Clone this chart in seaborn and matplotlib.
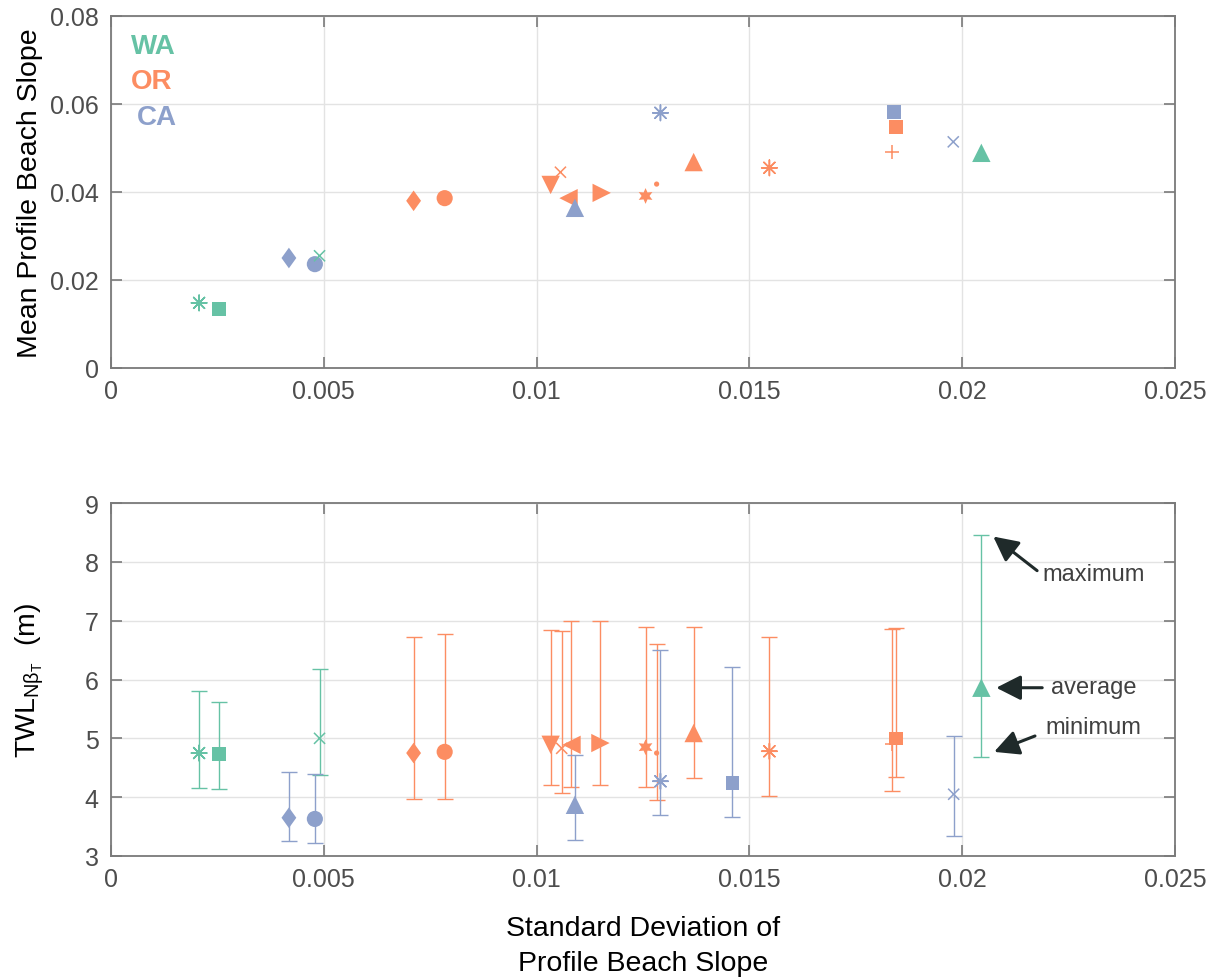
import numpy as np
import pandas as pd
import matplotlib
matplotlib.use("Agg")
import matplotlib.pyplot as plt
from matplotlib.markers import MarkerStyle
import seaborn as sns

# ---------------- data ----------------
states = ["WA", "OR", "CA"]
state_colors = ["#66c2a5", "#fc8d62", "#8da0cb"]

# top panel: std vs mean slope
wa_x_top = [0.00207, 0.00254, 0.00490, 0.02045]
wa_y_top = [0.0148, 0.0134, 0.0255, 0.0489]
wa_shape_top = ["asterisk", "square", "x", "triangle_up"]

or_x_top = [0.00711, 0.00784, 0.01056, 0.01033, 0.01075, 0.01153, 0.01256, 0.01282, 0.01369, 0.01547, 0.01845, 0.01836]
or_y_top = [0.0380, 0.0386, 0.0445, 0.0416, 0.0386, 0.0398, 0.0391, 0.0418, 0.0468, 0.0455, 0.0548, 0.0491]
or_shape_top = ["diamond", "circle", "x", "triangle_down", "triangle_left", "triangle_right",
                "hexagram", "point", "triangle_up", "asterisk", "square", "plus"]

ca_x_top = [0.00418, 0.00479, 0.01090, 0.01291, 0.01840, 0.01979]
ca_y_top = [0.0250, 0.0236, 0.0364, 0.0580, 0.0582, 0.0514]
ca_shape_top = ["diamond", "circle", "triangle_up", "asterisk", "square", "x"]

# bottom panel: TWL average / minimum / maximum
wa_x_bot = [0.00207, 0.00254, 0.00490, 0.02045]
wa_mean = [4.75, 4.73, 5.00, 5.86]
wa_min = [4.16, 4.14, 4.38, 4.68]
wa_max = [5.81, 5.62, 6.18, 8.46]
wa_shape_bot = ["asterisk", "square", "x", "triangle_up"]

or_x_bot = [0.00711, 0.00784, 0.01059, 0.01033, 0.01082, 0.01150, 0.01256, 0.01282, 0.01369, 0.01547, 0.01845, 0.01836]
or_mean = [4.75, 4.77, 4.83, 4.89, 4.89, 4.92, 4.85, 4.75, 5.09, 4.78, 5.00, 4.90]
or_min = [3.97, 3.97, 4.07, 4.20, 4.17, 4.20, 4.17, 3.95, 4.32, 4.02, 4.34, 4.10]
or_max = [6.73, 6.78, 6.83, 6.84, 7.00, 6.99, 6.90, 6.60, 6.90, 6.73, 6.87, 6.86]
or_shape_bot = ["diamond", "circle", "x", "triangle_down", "triangle_left", "triangle_right",
                "hexagram", "point", "triangle_up", "asterisk", "square", "plus"]

ca_x_bot = [0.00418, 0.00479, 0.01090, 0.01291, 0.01460, 0.01980]
ca_mean = [3.65, 3.63, 3.87, 4.27, 4.24, 4.05]
ca_min = [3.26, 3.22, 3.27, 3.70, 3.66, 3.34]
ca_max = [4.43, 4.39, 4.72, 6.50, 6.21, 5.04]
ca_shape_bot = ["diamond", "circle", "triangle_up", "asterisk", "square", "x"]

x_ticks = [0, 0.005, 0.01, 0.015, 0.02, 0.025]
x_ticklabels = ["0", "0.005", "0.01", "0.015", "0.02", "0.025"]
top_yticks = [0, 0.02, 0.04, 0.06, 0.08]
top_yticklabels = ["0", "0.02", "0.04", "0.06", "0.08"]
bot_yticks = [3, 4, 5, 6, 7, 8, 9]

# ---------------- styles ----------------
diamond = MarkerStyle([(0, 1), (0.72, 0), (0, -1), (-0.72, 0), (0, 1)])
marker_map = {
    "asterisk": (8, 2, 0), "square": "s", "x": "x", "triangle_up": "^",
    "diamond": diamond, "circle": "o", "triangle_down": "v", "triangle_left": "<",
    "triangle_right": ">", "hexagram": (6, 1, 0), "point": "o", "plus": "+",
}
size_map = {
    "asterisk": 125, "square": 95, "x": 64, "triangle_up": 175, "diamond": 220,
    "circle": 135, "triangle_down": 175, "triangle_left": 175, "triangle_right": 175,
    "hexagram": 130, "point": 14, "plus": 100,
}
line_shapes = {"asterisk", "x", "plus"}
palette = dict(zip(states, state_colors))

sns.set_theme(style="whitegrid")
plt.rcParams["font.family"] = ["Liberation Sans", "DejaVu Sans"]
plt.rcParams["mathtext.fontset"] = "custom"
plt.rcParams["mathtext.rm"] = "Liberation Sans"
plt.rcParams["mathtext.it"] = "Liberation Sans:italic"

tick_color = "#4d4d4d"
spine_color = "#7a7a7a"
label_size = 20.5


def frame(xs, ys, shapes, state):
    return pd.DataFrame({"x": xs, "y": ys, "shape": shapes, "state": state})


def draw_points(ax, df):
    filled = df[~df["shape"].isin(line_shapes)]
    lines = df[df["shape"].isin(line_shapes)]
    for sub, lw in ((filled, 0), (lines, 1.1)):
        levels = list(dict.fromkeys(sub["shape"]))
        sns.scatterplot(data=sub, x="x", y="y", hue="state", style="shape", size="shape",
                        palette=palette, hue_order=states,
                        markers={k: marker_map[k] for k in levels},
                        sizes={k: size_map[k] for k in levels},
                        linewidth=lw, legend=False, ax=ax, zorder=3)


def style_axes(ax):
    ax.set_xlim(0, 0.025)
    ax.set_xticks(x_ticks)
    ax.set_xticklabels(x_ticklabels)
    ax.grid(True, color="#e3e3e3", linewidth=1.0)
    ax.set_axisbelow(True)
    for s in ax.spines.values():
        s.set_visible(True)
        s.set_color(spine_color)
        s.set_linewidth(1.3)
    ax.tick_params(axis="both", which="both", direction="in", length=8, width=1.2,
                   color=spine_color, labelcolor=tick_color, labelsize=18,
                   top=True, right=True, bottom=True, left=True)
    ax.tick_params(axis="x", pad=8)
    ax.tick_params(axis="y", pad=9)
    ax.set_xlabel("")


fig = plt.figure(figsize=(12.10, 9.79), dpi=100)
ax1 = fig.add_axes([111 / 1210, 1 - 369 / 979, 1064 / 1210, 352 / 979])
ax2 = fig.add_axes([111 / 1210, 1 - 857 / 979, 1064 / 1210, 353 / 979])

# ---- top panel ----
top_df = pd.concat([
    frame(wa_x_top, wa_y_top, wa_shape_top, "WA"),
    frame(or_x_top, or_y_top, or_shape_top, "OR"),
    frame(ca_x_top, ca_y_top, ca_shape_top, "CA"),
], ignore_index=True)
draw_points(ax1, top_df)
style_axes(ax1)
ax1.set_ylim(0, 0.08)
ax1.set_yticks(top_yticks)
ax1.set_yticklabels(top_yticklabels)
ax1.set_ylabel("Mean Profile Beach Slope", fontsize=label_size, color="black", labelpad=5)

for label, color, xx, yy in (("WA", state_colors[0], 0.019, 0.915),
                             ("OR", state_colors[1], 0.019, 0.815),
                             ("CA", state_colors[2], 0.024, 0.713)):
    ax1.text(xx, yy, label, transform=ax1.transAxes, color=color, fontsize=20,
             fontweight="bold", ha="left", va="center")

# ---- bottom panel ----
bot_groups = [
    (wa_x_bot, wa_mean, wa_min, wa_max, wa_shape_bot, "WA"),
    (or_x_bot, or_mean, or_min, or_max, or_shape_bot, "OR"),
    (ca_x_bot, ca_mean, ca_min, ca_max, ca_shape_bot, "CA"),
]
frames = []
for xs, m, lo, hi, shapes, st in bot_groups:
    m_a, lo_a, hi_a = np.array(m), np.array(lo), np.array(hi)
    ax2.errorbar(xs, m_a, yerr=[m_a - lo_a, hi_a - m_a], fmt="none", ecolor=palette[st],
                 elinewidth=1.0, capsize=5.5, capthick=1.0, zorder=2)
    frames.append(frame(xs, m, shapes, st))
bot_df = pd.concat(frames, ignore_index=True)
draw_points(ax2, bot_df)
style_axes(ax2)
ax2.set_ylim(3, 9)
ax2.set_yticks(bot_yticks)
ax2.set_ylabel(r"TWL$_{\mathrm{Nβ}_{\mathrm{T}}}$  (m)", fontsize=label_size, color="black",
               labelpad=28)
ax2.set_xlabel("Standard Deviation of\nProfile Beach Slope", fontsize=label_size, color="black",
               labelpad=17, linespacing=1.45)

arrow_color = "#1f2a2a"
annots = [
    ("maximum", (0.02073, 8.43), (0.02176, 7.85), (0.02308, 7.80)),
    ("average", (0.02080, 5.86), (0.02188, 5.86), (0.02308, 5.87)),
    ("minimum", (0.02075, 4.77), (0.02171, 5.04), (0.02308, 5.19)),
]
for txt, tip, tail, pos in annots:
    ax2.annotate("", xy=tip, xytext=tail,
                 arrowprops=dict(arrowstyle="-|>,head_length=0.75,head_width=0.38",
                                 color=arrow_color, lw=2.2, mutation_scale=20,
                                 shrinkA=0, shrinkB=0))
    ax2.text(pos[0], pos[1], txt, fontsize=17, color="#404040", ha="center", va="center")

fig.savefig("out.png", dpi=100)
